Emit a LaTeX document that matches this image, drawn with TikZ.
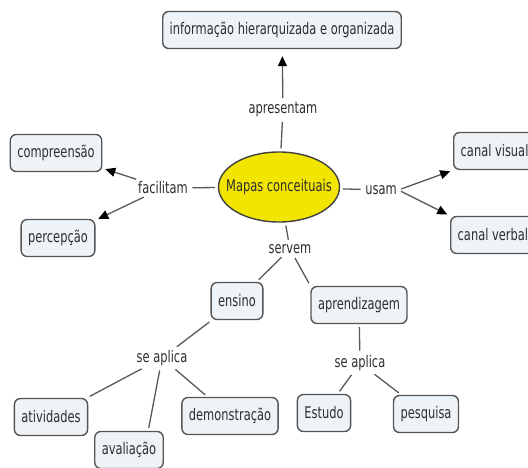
\documentclass[tikz,border=0pt]{standalone}
\usepackage{fontspec}
\setmainfont{DejaVu Sans}[FakeStretch=0.715]
\usetikzlibrary{arrows.meta,shapes.geometric}
\definecolor{boxfill}{HTML}{EEF3F7}
\definecolor{boxline}{HTML}{555555}
\definecolor{mapyellow}{HTML}{F2E500}
\definecolor{txtgray}{HTML}{2E2E2E}

\begin{document}
\begin{tikzpicture}[x=1pt, y=-1pt,
    every node/.style={font=\fontsize{16}{18}\selectfont, text=txtgray},
    concept/.style={draw=boxline, line width=1.4pt, fill=boxfill, rounded corners=6pt,
      minimum height=37pt, inner xsep=7pt},
    link/.style={inner sep=1.5pt},
    mapa/.style={ellipse, draw=black!75, line width=1.4pt, fill=mapyellow,
      minimum width=121pt, minimum height=70pt, inner sep=0pt},
    con/.style={draw=black!65, line width=1.3pt, shorten <=3pt, shorten >=3pt},
    arr/.style={con, -{Triangle[length=10pt, width=9pt, color=black]}},
  ]
  \useasboundingbox (0,0) rectangle (528,468);

  % main concept and the phrases round it
  \node[mapa] (mapas) at (279,187) {\makebox[0pt]{Mapas conceituais}};
  \node[link] (apres) at (283,110) {apresentam};
  \node[link] (facil) at (163,188) {facilitam};
  \node[link] (usam) at (381,190) {usam};
  \node[link] (serv) at (290,249) {servem};

  % concepts
  \node[concept] (info) at (282,30) {informação hierarquizada e organizada};
  \node[concept] (compr) at (56,153) {compreensão};
  \node[concept] (perc) at (58,238) {percepção};
  \node[concept, anchor=west] (cvis) at (453,151) {canal visual};
  \node[concept, anchor=west] (cverb) at (450,235) {canal verbal};
  \node[concept] (ensino) at (237,301) {ensino};
  \node[concept] (aprend) at (359,305) {aprendizagem};

  \node[link] (seapL) at (162,358) {se aplica};
  \node[link] (seapR) at (360,363) {se aplica};

  \node[concept] (ativ) at (51,417) {atividades};
  \node[concept] (aval) at (129,450) {avaliação};
  \node[concept] (demo) at (230,416) {demonstração};
  \node[concept] (estudo) at (324,413) {Estudo};
  \node[concept] (pesq) at (426,414) {pesquisa};

  % connectors
  \draw[con] (mapas) -- (apres);
  \draw[arr, shorten >=7pt] (apres) -- (info);
  \draw[con] (mapas) -- (facil);
  \draw[arr] (facil) -- (compr);
  \draw[arr] (facil) -- (perc);
  \draw[con] (mapas) -- (usam);
  \draw[arr] (usam.east) -- (cvis.south west);
  \draw[arr] (usam.east) -- (cverb.north west);
  \draw[con] (mapas) -- (serv);
  \draw[con] (serv) -- (ensino);
  \draw[con] (serv) -- (aprend.north west);
  \draw[con] (ensino) -- (seapL);
  \draw[con] (seapL) -- (ativ);
  \draw[con] (seapL) -- (aval.45);
  \draw[con] (seapL) -- (demo);
  \draw[con] (aprend) -- (seapR);
  \draw[con] (seapR) -- (estudo);
  \draw[con] (seapR) -- (pesq);
\end{tikzpicture}
\end{document}
